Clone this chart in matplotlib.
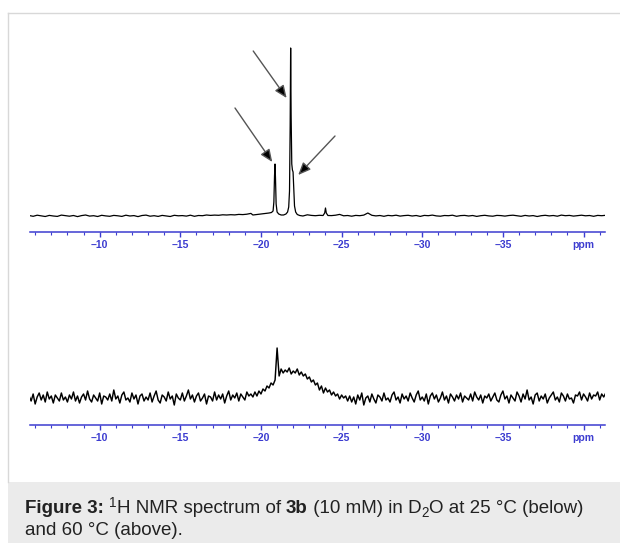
import numpy as np
import matplotlib
matplotlib.use("Agg")
import matplotlib.pyplot as plt
from matplotlib.ticker import MultipleLocator, FuncFormatter
from matplotlib.patches import Rectangle
from matplotlib.lines import Line2D

plt.rcParams['font.family'] = ['Liberation Sans', 'DejaVu Sans']

# ---------------- data ----------------
ppm_left, ppm_right = -5.625, -41.375

# 60 °C spectrum (top): coarse baseline (0.25 ppm grid) + detailed peak region
top_base = [
    0.5, -0.3, 0.8, 0.2, -0.5, 0.6, 0.0, -0.4, 0.9, 0.3,
    -0.2, 0.5, -0.6, 0.4, 1.0, -0.1, 0.3, -0.5, 0.7, 0.1,
    -0.3, 0.6, 0.2, -0.4, 0.8, 0.0, 0.4, -0.6, 0.5, 0.9,
    -0.2, 0.3, -0.4, 0.6, 0.1, -0.5, 0.7, 0.2, 0.4, -0.1,
    0.8, -0.3, 0.5, 0.3, 1.0, 0.6, 0.9, 0.7, 1.2, 1.0,
    1.3, 1.1, 1.6, 1.4, 1.8, 2.6, 1.9, 2.2, 2.5, 3.0,
    3.0, 3.0, 3.0, 3.0, 3.0, 3.0, 3.0, 3.0, 3.0, 1.2,
    0.6, 0.3, 0.7, 0.0, 0.0, 0.4, 0.8, 1.6, 0.2, 0.5,
    -0.2, 0.6, 0.3, 0.9, 3.0, 0.7, 0.1, 0.5, -0.3, 0.6,
    0.2, 0.8, -0.1, 0.4, 0.7, 0.0, 0.5, -0.4, 0.6, 0.3,
    0.9, 0.1, -0.2, 0.5, 0.3, 0.8, -0.3, 0.4, 0.6, 0.0,
    0.5, -0.4, 0.3, 0.7, 0.1, -0.2, 0.6, 0.4, -0.1, 0.5,
    0.8, 0.2, -0.3, 0.6, 0.0, 0.4, -0.5, 0.3, 0.7, 0.1,
    0.5, -0.2, 0.9, 0.3, 0.6, -0.1, 0.4, 0.8, 0.2, 0.5,
    -0.3, 0.6, 0.3, 0.7,
]
top_peak_ppm = [-19.50, -19.75, -20.00, -20.25, -20.50, -20.65, -20.75, -20.80,
                -20.84, -20.87, -20.90, -20.94, -21.00, -21.10, -21.25, -21.40,
                -21.55, -21.65, -21.72, -21.77, -21.81, -21.84, -21.87, -21.91,
                -21.95, -21.99, -22.03, -22.08, -22.15, -22.25, -22.40, -22.60,
                -23.85, -23.95, -24.00, -24.05, -24.15]
top_peak_int = [1.0, 1.5, 2.0, 2.5, 3.0, 3.5, 5.0, 14.0,
                40.0, 52.0, 38.0, 12.0, 4.0, 2.0, 1.0, 1.0,
                2.0, 4.0, 9.0, 25.0, 90.0, 168.0, 100.0, 52.0,
                46.0, 44.0, 28.0, 10.0, 4.0, 1.5, 0.5, 0.0,
                0.5, 3.0, 8.0, 3.0, 0.5]

# 25 °C spectrum (bottom): 0.125 ppm grid
bottom_int = [
    2, -3, 4, -6, 1, 5, -2, 3, -4, 6, -1, 2, -5, 3, 0, -3, 5, -2, 1, -4,
    3, -1, 6, -3, 2, -5, 1, 4, -2, 7, -1, -4, 3, 0, -3, 5, -6, 2, 1, -2,
    4, -3, 8, -1, 2, -5, 3, 6, -2, 0, -4, 5, -1, 3, -6, 2, 4, -3, 1, -2,
    5, -4, 2, 7, -2, -5, 3, 1, -3, 6, -1, 2, -7, 4, 0, -2, 5, -3, 2, 8,
    -1, 3, -4, 2, 5, -3, 0, 4, -6, 2, 1, -3, 6, -2, 3, -1, 4, -5, 2, 7,
    -2, 3, 0, 5, -3, 4, 1, -2, 6, 2, 4,
    1, 6, 2, 7, 4, 9, 7, 12, 10, 15, 13, 18, 50, 22, 29, 25, 28, 26, 30, 24,
    27, 25, 29, 23, 26, 22, 24, 19, 21, 16, 18, 13, 15, 8, 12, 5, 10, 6, 8, 3,
    6, 2, 4, -1, 3, 0, 2, -3,
    2, -4, 1, -6, 3, -2, 5, -7, 0, 2, -4, 4, -1, -5, 3, 1, -3, 5, -2, 0,
    -4, 3, 6, -2, 1, -5, 4, -1, 2, -3, 5, 0, -4, 3, 7, -2, 1, -3, 4, -6,
    2, 5, -1, 3, -4, 0, 6, -2, 2, -5, 4, 1, -3, 3, -1, 5, -4, 2, 0, -2,
    4, -3, 6, 1, -2, 3, -5, 2, 0, 4, -3, 1, 5, -2, -4, 3, 7, -1, 2, -5,
    3, 0, -3, 6, 2, -4, 4, -1, 8, -2, 1, -6, 3, 5, -3, 2, -1, 4, -5, 0,
    3, 6, -2, 1, -4, 5, 2, -3, 4, -1, 0, -5, 3, 2, 6, -2, 4, 1, -3, 5,
    -1, 3, 2, 6, -2, 4, 1, 5,
]

# arrows (tail ppm, tail int, tip ppm, tip int) on the top spectrum
arrows = [(-18.39, 108, -20.70, 54),
          (-19.52, 165, -21.59, 118),
          (-24.59, 80, -22.31, 41)]

tick_color = '#3c3cd0'

# ---------------- figure ----------------
W, H = 620, 543
fig = plt.figure(figsize=(W / 100, H / 100), dpi=100)
fig.patch.set_facecolor('white')

# panel border and caption box
fig.add_artist(Line2D([8 / W, 1], [1 - 13 / H, 1 - 13 / H], color='#d8d8d8', lw=1.0))
fig.add_artist(Line2D([8 / W, 8 / W], [1 - 13 / H, 1 - 482 / H], color='#d8d8d8', lw=1.0))
fig.add_artist(Rectangle((8 / W, 0), 1 - 8 / W, 61 / H, transform=fig.transFigure,
                         facecolor='#ebebeb', edgecolor='none'))

ax_left_px, ax_right_px = 30, 605
xlim = (-5.68, -41.33)


def fmt(v, pos):
    if abs(v + 40) < 1e-6:
        return 'ppm'
    return '\u2013%d' % abs(round(v))


def style_axis(ax):
    ax.set_xlim(*xlim)
    for s in ['top', 'left', 'right']:
        ax.spines[s].set_visible(False)
    ax.spines['bottom'].set_color(tick_color)
    ax.spines['bottom'].set_linewidth(1.1)
    ax.set_yticks([])
    ax.xaxis.set_major_locator(MultipleLocator(5))
    ax.xaxis.set_minor_locator(MultipleLocator(1))
    ax.xaxis.set_major_formatter(FuncFormatter(fmt))
    ax.tick_params(axis='x', which='major', direction='out', length=3.5, width=1.0,
                   color=tick_color, labelcolor=tick_color, labelsize=7.5, pad=2.5)
    ax.tick_params(axis='x', which='minor', direction='out', length=1.8, width=0.8,
                   color=tick_color)
    for lab in ax.get_xticklabels():
        lab.set_fontweight('bold')
    ax.patch.set_visible(False)


# top axes: axis line at y=231.5 px, baseline at 216 px
top_axis_px, top_top_px = 231.5, 30
ax1 = fig.add_axes([ax_left_px / W, 1 - top_axis_px / H,
                    (ax_right_px - ax_left_px) / W, (top_axis_px - top_top_px) / H])
ax1.set_ylim(-15.5, top_axis_px - top_top_px - 15.5)
base_ppm = np.linspace(ppm_left, ppm_right, len(top_base))
base_arr = np.array(top_base)
keep = ~(((base_ppm < -19.4) & (base_ppm > -22.7)) | ((base_ppm < -23.8) & (base_ppm > -24.2)))
x_top = np.concatenate([base_ppm[keep], top_peak_ppm])
y_top = np.concatenate([base_arr[keep], top_peak_int])
order = np.argsort(-x_top)
ax1.plot(x_top[order], y_top[order], color='black', lw=0.9)
style_axis(ax1)
for tx, ty, hx, hy in arrows:
    ax1.annotate('', xy=(hx, hy), xytext=(tx, ty),
                 arrowprops=dict(arrowstyle='-|>,head_length=0.75,head_width=0.32',
                                 color='#555555', lw=1.0, shrinkA=0, shrinkB=0,
                                 mutation_scale=10, fc='black', ec='#555555'))

# bottom axes: axis line at y=425 px, baseline at 398 px
bot_axis_px, bot_top_px = 425, 320
ax2 = fig.add_axes([ax_left_px / W, 1 - bot_axis_px / H,
                    (ax_right_px - ax_left_px) / W, (bot_axis_px - bot_top_px) / H])
ax2.set_ylim(-27, bot_axis_px - bot_top_px - 27)
x_bot = np.linspace(ppm_left, ppm_right, len(bottom_int))
ax2.plot(x_bot, bottom_int, color='black', lw=1.05)
style_axis(ax2)

# caption, drawn as runs of text
renderer = fig.canvas.get_renderer()
cap_size = 13.5
cap_color = '#222222'


def draw_runs(runs, x_px, y_px):
    x = x_px
    for txt, weight, dy, scale in runs:
        t = fig.text(x / W, 1 - (y_px - dy) / H, txt, fontsize=cap_size * scale,
                     fontweight=weight, color=cap_color, va='baseline', ha='left')
        bb = t.get_window_extent(renderer=renderer)
        x += bb.width


line1 = [('Figure 3:', 'bold', 0, 1.0), (' ', 'normal', 0, 1.0),
         ('1', 'normal', 6, 0.72), ('H NMR spectrum of ', 'normal', 0, 1.0),
         ('3b', 'bold', 0, 1.0), (' (10 mM) in D', 'normal', 0, 1.0),
         ('2', 'normal', -4, 0.72), ('O at 25 °C (below)', 'normal', 0, 1.0)]
draw_runs(line1, 25, 513)
draw_runs([('and 60 °C (above).', 'normal', 0, 1.0)], 25, 535)

fig.savefig('out.png', dpi=100)
